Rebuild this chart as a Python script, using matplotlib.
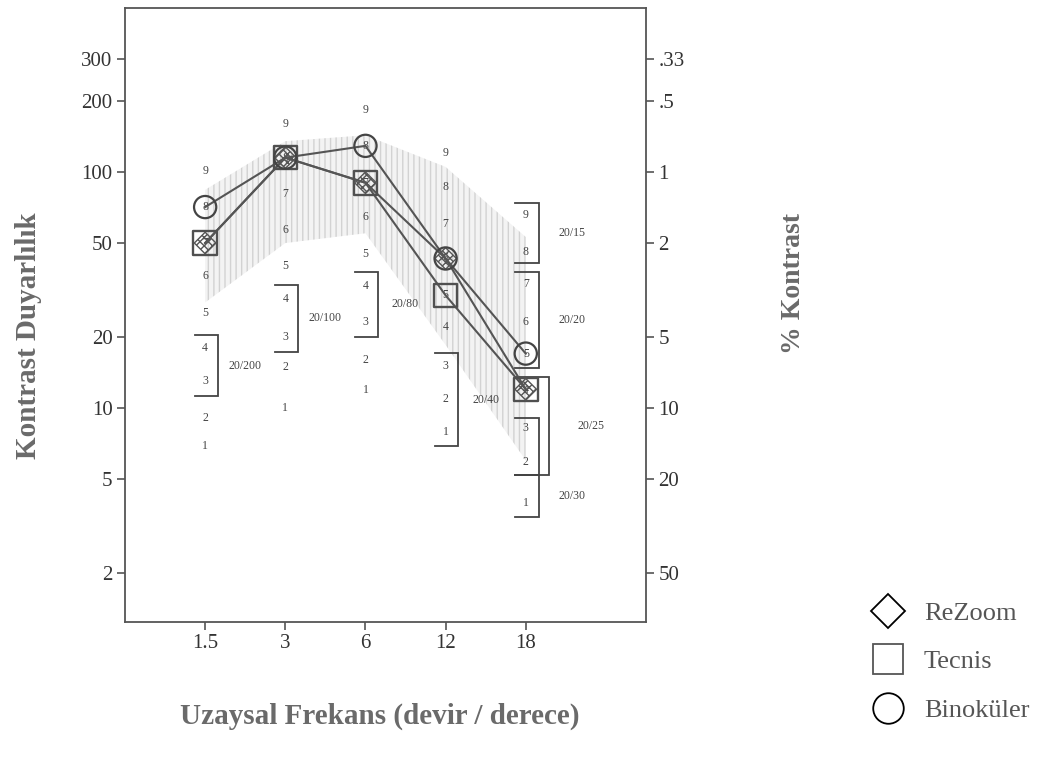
import matplotlib
matplotlib.use("Agg")
import matplotlib.pyplot as plt
from matplotlib.lines import Line2D
import numpy as np

# ---------------- data ----------------
freq_labels = ["1.5", "3", "6", "12", "18"]
x_pos = [1, 2, 3, 4, 5]

rezoom = [50, 115, 90, 43, 12]
tecnis = [50, 115, 90, 30, 12]
binokuler = [71, 115, 129, 43, 17]

norm_upper = [84, 135, 143, 105, 53]
norm_lower = [28, 50, 55, 18.5, 6.0]

# CSV-1000 patch numbers (1..9) positions at each frequency
patch_1_5 = [6.9, 9.1, 13.0, 17.9, 25.3, 36.2, 50, 71, 101]
patch_3 = [10, 14.9, 20, 29, 40, 56.8, 80.8, 115, 160]
patch_6 = [11.9, 16.0, 23.1, 32.9, 45, 64.4, 90, 129, 183]
patch_12 = [7.9, 10.9, 15.1, 22, 30, 43, 60.3, 86.3, 120]
patch_18 = [3.95, 5.9, 8.2, 11.9, 16.9, 23.1, 33.5, 45.8, 65.8]

# acuity brackets: (x index, low, high, label)
bracket_pos = [1, 2, 3, 4, 5, 5, 5, 5, 5]
bracket_low = [11.2, 17.3, 20.0, 6.9, 41, 14.8, 5.2, 5.2, 3.45]
bracket_high = [20.4, 33.2, 37.7, 17.1, 74, 37.7, 13.5, 9.1, 5.2]
bracket_label = ["20/200", "20/100", "20/80", "20/40", "20/15", "20/20", "20/25", "", "20/30"]

left_ticks = [300, 200, 100, 50, 20, 10, 5, 2]
right_labels = [".33", ".5", "1", "2", "5", "10", "20", "50"]

# ---------------- figure ----------------
plt.rcParams['font.family'] = ['Liberation Serif', 'DejaVu Serif']
W, H = 1056, 765
fig = plt.figure(figsize=(W / 100, H / 100), dpi=100)
L, R, T, B = 125, 646, 8, 622
ax = fig.add_axes([L / W, 1 - B / H, (R - L) / W, (B - T) / H])
ax.set_yscale('log')
ax.set_ylim(1.24, 495)
ax.set_xlim(0, 6.5)

spine_c = '#555555'
for s in ax.spines.values():
    s.set_color(spine_c)
    s.set_linewidth(1.3)

# normal range band
ax.fill_between(x_pos, norm_lower, norm_upper, facecolor='#f3f3f3',
                edgecolor='#d2d2d2', hatch='|||', linewidth=0, zorder=1)

# patch numbers
patches = [patch_1_5, patch_3, patch_6, patch_12, patch_18]
for xp, vals in zip(x_pos, patches):
    for i, v in enumerate(vals):
        ax.text(xp, v, str(i + 1), ha='center', va='center', fontsize=8.5,
                color='#444444', zorder=2)

# brackets
for xp, lo, hi, lab in zip(bracket_pos, bracket_low, bracket_high, bracket_label):
    wide = (lab == "20/25")
    xr = xp + (0.29 if wide else 0.16)
    xl = xp - 0.13
    ax.plot([xl, xr, xr, xl], [hi, hi, lo, lo], color='#444444', lw=1.3,
            zorder=2, solid_joinstyle='miter')
    if lab:
        gm = np.sqrt(lo * hi)
        xo = xp + (0.82 if wide else (0.58 if xp == 5 else 0.5))
        ax.text(xo, gm, lab, ha='center', va='center', fontsize=8.5,
                color='#444444', zorder=2)

# series lines
line_c = '#555555'
for ser in (rezoom, tecnis, binokuler):
    ax.plot(x_pos, ser, color=line_c, lw=1.5, zorder=3)

ax.scatter(x_pos, tecnis, marker='s', s=17**2, facecolor='none',
           edgecolor='#505050', linewidth=1.7, zorder=4)
ax.scatter(x_pos, rezoom, marker='D', s=11**2, facecolor='none',
           edgecolor='#555555', linewidth=1.0, hatch='xxxx', zorder=4)
ax.scatter(x_pos, binokuler, marker='o', s=16**2, facecolor='none',
           edgecolor='#444444', linewidth=1.6, zorder=4)

# axes ticks
ax.set_xticks(x_pos)
ax.set_xticklabels(freq_labels)
ax.set_yticks(left_ticks)
ax.set_yticklabels([str(t) for t in left_ticks])
ax.yaxis.set_minor_locator(matplotlib.ticker.NullLocator())
ax.tick_params(axis='both', direction='out', length=6, width=1.2,
               color=spine_c, labelsize=15, labelcolor='#333333', pad=3)

ax2 = ax.twinx()
ax2.set_yscale('log')
ax2.set_ylim(ax.get_ylim())
ax2.set_yticks(left_ticks)
ax2.set_yticklabels(right_labels)
ax2.yaxis.set_minor_locator(matplotlib.ticker.NullLocator())
ax2.tick_params(axis='y', direction='out', length=6, width=1.2,
                color=spine_c, labelsize=15, labelcolor='#333333', pad=3)
for s in ax2.spines.values():
    s.set_visible(False)

label_c = '#6a6a6a'
fig.text(29 / W, 1 - 336 / H, "Kontrast Duyarlılık", rotation=90, ha='center',
         va='center', fontsize=21, fontweight='bold', color=label_c)
fig.text(793 / W, 1 - 283 / H, "% Kontrast", rotation=90, ha='center',
         va='center', fontsize=20, fontweight='bold', color=label_c)
fig.text(380 / W, 1 - 716 / H, "Uzaysal Frekans (devir / derece)", ha='center',
         va='center', fontsize=21, fontweight='bold', color=label_c)

# legend
handles = [
    Line2D([], [], marker='D', markersize=17, markerfacecolor='white',
           markeredgecolor='black', linestyle='none', markeredgewidth=1.3),
    Line2D([], [], marker='s', markersize=22, markerfacecolor='white',
           markeredgecolor='#555555', linestyle='none', markeredgewidth=1.3),
    Line2D([], [], marker='o', markersize=22, markerfacecolor='white',
           markeredgecolor='black', linestyle='none', markeredgewidth=1.3),
]
leg = fig.legend(handles, ["ReZoom", "Tecnis", "Binoküler"],
                 loc='center left', bbox_to_anchor=(0.80, 0.135),
                 frameon=False, fontsize=19, labelspacing=0.95,
                 handletextpad=0.6, handlelength=1.5)
for t in leg.get_texts():
    t.set_color('#555555')

fig.savefig("out.png", dpi=100, facecolor='white')
